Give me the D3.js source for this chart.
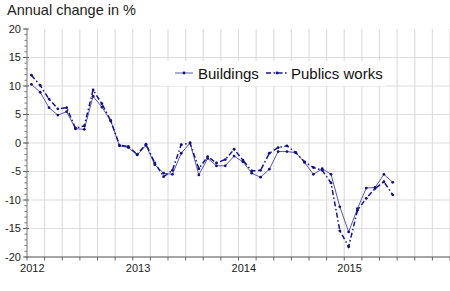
<!DOCTYPE html>
<html>
<head>
<meta charset="utf-8">
<script src="https://cdn.jsdelivr.net/npm/d3@7"></script>
<style>
  body { margin: 0; background: #fff; }
  svg { display: block; font-family: "Liberation Sans", Arial, sans-serif; }
</style>
</head>
<body>
<svg id="drawing_region"></svg>
<script>
// monthly values, Jan 2012 .. Jun 2015
const years = ["2012", "2013", "2014", "2015"];
const buildings = [
    10.3, 8.9, 6.2, 4.9, 5.5, 2.5, 2.4, 8.2, 6.3, 3.9, -0.5, -0.8,
    -2.1, -0.4, -3.8, -5.3, -5.5, -1.8, 0.0, -5.6, -2.7, -4.0, -4.0, -2.3,
    -3.3, -5.3, -6.0, -4.6, -1.5, -1.5, -1.7, -3.4, -5.5, -4.5, -5.5, -11.2,
    -15.6, -11.5, -7.9, -7.8, -5.5, -6.9
];
const publics_works = [
    11.9, 10.1, 7.7, 6.0, 6.2, 2.6, 3.0, 9.3, 6.9, 3.9, -0.4, -0.6,
    -2.0, -0.2, -3.5, -5.9, -4.8, -0.3, 0.0, -4.5, -2.4, -3.5, -2.9, -1.1,
    -3.0, -4.9, -4.8, -1.8, -0.8, -0.5, -1.7, -3.3, -4.3, -4.8, -7.0, -15.4,
    -18.2, -11.8, -9.7, -8.0, -6.8, -9.1
];
const series_names = ["Buildings", "Publics works"];
const y_ticks = [-20, -15, -10, -5, 0, 5, 10, 15, 20];

const config = {
    parent: '#drawing_region',
    width: 450,
    height: 291,
    margin: {top: 29, right: 0, bottom: 34, left: 27}
};

class LineChart {

    constructor( config ) {
        this.config = config;
        this.init();
    }

    init() {
        let self = this;

        self.svg = d3.select( self.config.parent )
            .attr('width', self.config.width)
            .attr('height', self.config.height);

        self.inner_width = self.config.width - self.config.margin.left - self.config.margin.right;
        self.inner_height = self.config.height - self.config.margin.top - self.config.margin.bottom;

        self.chart = self.svg.append('g')
            .attr('transform', `translate(${self.config.margin.left}, ${self.config.margin.top})`);

        // x in months from Jan 2012, 4 years shown
        self.xscale = d3.scaleLinear()
            .domain( [0, 48] )
            .range( [0, self.inner_width] );

        self.yscale = d3.scaleLinear()
            .domain( [-20, 20] )
            .range( [self.inner_height, 0] );
    }

    render() {
        let self = this;
        const x = self.xscale, y = self.yscale;

        self.svg.append('text')
            .attr('x', 7)
            .attr('y', 15)
            .attr('font-size', 14.5)
            .attr('fill', '#222')
            .text('Annual change in %');

        // grid
        const months2 = d3.range(2, 49, 2);
        self.chart.append('g').selectAll('line')
            .data(months2)
            .join('line')
            .attr('x1', d => x(d)).attr('x2', d => x(d))
            .attr('y1', 0).attr('y2', self.inner_height)
            .attr('stroke', '#dedede')
            .attr('stroke-width', 1.2);

        self.chart.append('g').selectAll('line')
            .data(y_ticks.filter(d => d > -20 && d < 20))
            .join('line')
            .attr('x1', 0).attr('x2', self.inner_width)
            .attr('y1', d => y(d)).attr('y2', d => y(d))
            .attr('stroke', '#dedede')
            .attr('stroke-width', 1.2);

        // y axis with minor ticks
        const yaxis = self.chart.append('g');
        yaxis.append('line')
            .attr('x1', 0).attr('x2', 0)
            .attr('y1', 0).attr('y2', self.inner_height)
            .attr('stroke', '#777');
        yaxis.selectAll('.minor')
            .data(d3.range(-20, 21, 1))
            .join('line')
            .attr('x1', -2.5).attr('x2', 0)
            .attr('y1', d => y(d)).attr('y2', d => y(d))
            .attr('stroke', '#777');
        yaxis.selectAll('.major')
            .data(y_ticks)
            .join('line')
            .attr('x1', -4).attr('x2', 2)
            .attr('y1', d => y(d)).attr('y2', d => y(d))
            .attr('stroke', '#666');
        yaxis.selectAll('text')
            .data(y_ticks)
            .join('text')
            .attr('x', -6)
            .attr('y', d => y(d))
            .attr('dy', '0.35em')
            .attr('text-anchor', 'end')
            .attr('font-size', 11)
            .attr('fill', '#222')
            .text(d => d);

        // x axis
        const xaxis = self.chart.append('g')
            .attr('transform', `translate(0, ${self.inner_height})`);
        xaxis.append('line')
            .attr('x1', 0).attr('x2', self.inner_width)
            .attr('stroke', '#888')
            .attr('stroke-width', 1.5);
        xaxis.selectAll('.tick')
            .data(d3.range(0, 49, 2))
            .join('line')
            .attr('x1', d => x(d)).attr('x2', d => x(d))
            .attr('y1', 0).attr('y2', 3.5)
            .attr('stroke', '#666');
        xaxis.selectAll('text')
            .data(years)
            .join('text')
            .attr('x', (d, i) => x(i * 12 + 0.6))
            .attr('y', 14.5)
            .attr('text-anchor', 'middle')
            .attr('font-size', 11)
            .attr('fill', '#222')
            .text(d => d);

        // lines
        const line = d3.line()
            .x( (d, i) => x(i + 0.5) )
            .y( d => y(d) );

        const styles = [
            {data: buildings, stroke: '#4444ad', width: 0.9, dash: null},
            {data: publics_works, stroke: '#151590', width: 1.5, dash: '5,2.5,1.5,2.5'}
        ];

        styles.forEach( s => {
            self.chart.append('path')
                .attr('d', line(s.data))
                .attr('fill', 'none')
                .attr('stroke', s.stroke)
                .attr('stroke-width', s.width)
                .attr('stroke-dasharray', s.dash);
            self.chart.append('g').selectAll('circle')
                .data(s.data)
                .join('circle')
                .attr('cx', (d, i) => x(i + 0.5))
                .attr('cy', d => y(d))
                .attr('r', 1.4)
                .attr('fill', '#10107e');
        });

        // legend
        const legend = self.svg.append('g');
        legend.append('rect')
            .attr('x', 160).attr('y', 61)
            .attr('width', 226).attr('height', 25)
            .attr('fill', '#fff');
        const items = [
            {name: series_names[0], x0: 175, x1: 193, tx: 198, st: styles[0]},
            {name: series_names[1], x0: 266, x1: 288, tx: 291, st: styles[1]}
        ];
        items.forEach( it => {
            legend.append('line')
                .attr('x1', it.x0).attr('x2', it.x1)
                .attr('y1', 73).attr('y2', 73)
                .attr('stroke', it.st.stroke)
                .attr('stroke-width', it.st.width)
                .attr('stroke-dasharray', it.st.dash);
            legend.append('circle')
                .attr('cx', (it.x0 + it.x1) / 2)
                .attr('cy', 73)
                .attr('r', 1.4)
                .attr('fill', '#10107e');
            legend.append('text')
                .attr('x', it.tx)
                .attr('y', 78.5)
                .attr('font-size', 15)
                .attr('fill', '#111')
                .text(it.name);
        });
    }
}

const chart = new LineChart( config );
chart.render();
</script>
</body>
</html>
